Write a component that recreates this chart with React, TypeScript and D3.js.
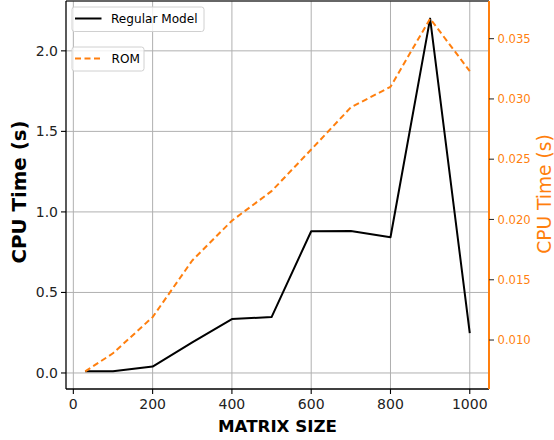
import React from "react";
import * as d3 from "d3";

const matrixSizes = [30, 100, 200, 300, 400, 500, 600, 700, 800, 900, 1000];
const regularModel = [0.01, 0.01, 0.04, 0.19, 0.335, 0.347, 0.88, 0.882, 0.843, 2.2, 0.248];
const romModel = [0.0074, 0.0089, 0.0119, 0.0166, 0.0199, 0.02235, 0.0258, 0.0293, 0.031, 0.03666, 0.0323];
const xTicks = [0, 200, 400, 600, 800, 1000];
const leftTicks = [0.0, 0.5, 1.0, 1.5, 2.0];
const rightTicks = [0.01, 0.015, 0.02, 0.025, 0.03, 0.035];

const W = 554;
const H = 440;
const M = { left: 66, right: 489, top: 1, bottom: 389 };
const ORANGE = "#ff7f0e";
const FONT = "DejaVu Sans, sans-serif";

function padded(values: number[]): [number, number] {
  const [a, b] = d3.extent(values) as [number, number];
  const p = (b - a) * 0.05;
  return [a - p, b + p];
}

export default function App() {
  const x = d3.scaleLinear().domain(padded(matrixSizes)).range([M.left, M.right]);
  const yL = d3.scaleLinear().domain(padded(regularModel)).range([M.bottom, M.top]);
  const yR = d3.scaleLinear().domain(padded(romModel)).range([M.bottom, M.top]);

  const regPts: [number, number][] = matrixSizes.map((s, i) => [s, regularModel[i]]);
  const romPts: [number, number][] = matrixSizes.map((s, i) => [s, romModel[i]]);
  const lineL = d3.line<[number, number]>().x((d) => x(d[0])).y((d) => yL(d[1]));
  const lineR = d3.line<[number, number]>().x((d) => x(d[0])).y((d) => yR(d[1]));

  const f1 = d3.format(".1f");
  const f3 = d3.format(".3f");

  return (
    <svg width={W} height={H} style={{ position: "absolute", left: 0, top: 0, background: "#fff" }} fontFamily={FONT}>
      <rect x={0} y={0} width={W} height={H} fill="#fff" />
      {/* grid */}
      <g stroke="#b0b0b0" strokeWidth={1}>
        {xTicks.map((t) => (
          <line key={"gx" + t} x1={x(t)} x2={x(t)} y1={M.top} y2={M.bottom} />
        ))}
        {leftTicks.map((t) => (
          <line key={"gy" + t} x1={M.left} x2={M.right} y1={yL(t)} y2={yL(t)} />
        ))}
      </g>
      {/* lines */}
      <path d={lineL(regPts) || ""} fill="none" stroke="#000" strokeWidth={2} strokeLinejoin="round" />
      <path d={lineR(romPts) || ""} fill="none" stroke={ORANGE} strokeWidth={2} strokeDasharray="6 3.5" strokeLinejoin="round" />

      {/* spines */}
      <line x1={M.left} x2={M.right} y1={M.top} y2={M.top} stroke="#333" strokeWidth={1.3} />
      <line x1={M.left} x2={M.right} y1={M.bottom} y2={M.bottom} stroke="#000" strokeWidth={1.3} />
      <line x1={M.left} x2={M.left} y1={M.top} y2={M.bottom} stroke="#000" strokeWidth={1.3} />
      <line x1={M.right} x2={M.right} y1={M.top} y2={M.bottom} stroke={ORANGE} strokeWidth={2} />

      {/* x ticks */}
      {xTicks.map((t) => (
        <g key={"xt" + t}>
          <line x1={x(t)} x2={x(t)} y1={M.bottom} y2={M.bottom + 5} stroke="#000" strokeWidth={1.1} />
          <text x={x(t)} y={M.bottom + 19.5} fontSize={14} textAnchor="middle" fill="#222">
            {String(t)}
          </text>
        </g>
      ))}
      {/* left ticks */}
      {leftTicks.map((t) => (
        <g key={"lt" + t}>
          <line x1={M.left - 5} x2={M.left} y1={yL(t)} y2={yL(t)} stroke="#000" strokeWidth={1.1} />
          <text x={M.left - 8} y={yL(t) + 5} fontSize={14} textAnchor="end" fill="#222">
            {f1(t)}
          </text>
        </g>
      ))}
      {/* right ticks */}
      {rightTicks.map((t) => (
        <g key={"rt" + t}>
          <line x1={M.right} x2={M.right + 5} y1={yR(t)} y2={yR(t)} stroke="#333" strokeWidth={1.1} />
          <text x={M.right + 8.5} y={yR(t) + 4.2} fontSize={11.6} textAnchor="start" fill={ORANGE}>
            {f3(t)}
          </text>
        </g>
      ))}

      {/* axis labels */}
      <text x={(M.left + M.right) / 2} y={432} fontSize={16.7} fontWeight="bold" textAnchor="middle" fill="#000">
        MATRIX SIZE
      </text>
      <text
        transform={`translate(25.5, 192) rotate(-90)`}
        fontSize={19.8}
        fontWeight="bold"
        textAnchor="middle"
        fill="#000"
      >
        CPU Time (s)
      </text>
      <text
        transform={`translate(551, 194) rotate(-90)`}
        fontSize={18.6}
        textAnchor="middle"
        fill={ORANGE}
      >
        CPU Time (s)
      </text>

      {/* legends */}
      <g>
        <rect x={72} y={7} width={132} height={24.5} rx={2.5} fill="#fff" fillOpacity={0.8} stroke="#d0d0d0" strokeWidth={1} />
        <line x1={75} x2={101.5} y1={18.5} y2={18.5} stroke="#000" strokeWidth={2} />
        <text x={111} y={23} fontSize={12.1} fill="#000">Regular Model</text>
      </g>
      <g>
        <rect x={72} y={47} width={72} height={24} rx={2.5} fill="#fff" fillOpacity={0.8} stroke="#d0d0d0" strokeWidth={1} />
        <line x1={75} x2={101.5} y1={58.5} y2={58.5} stroke={ORANGE} strokeWidth={2} strokeDasharray="6 3.5" />
        <text x={111.5} y={63} fontSize={12.1} fill="#000">ROM</text>
      </g>
    </svg>
  );
}
